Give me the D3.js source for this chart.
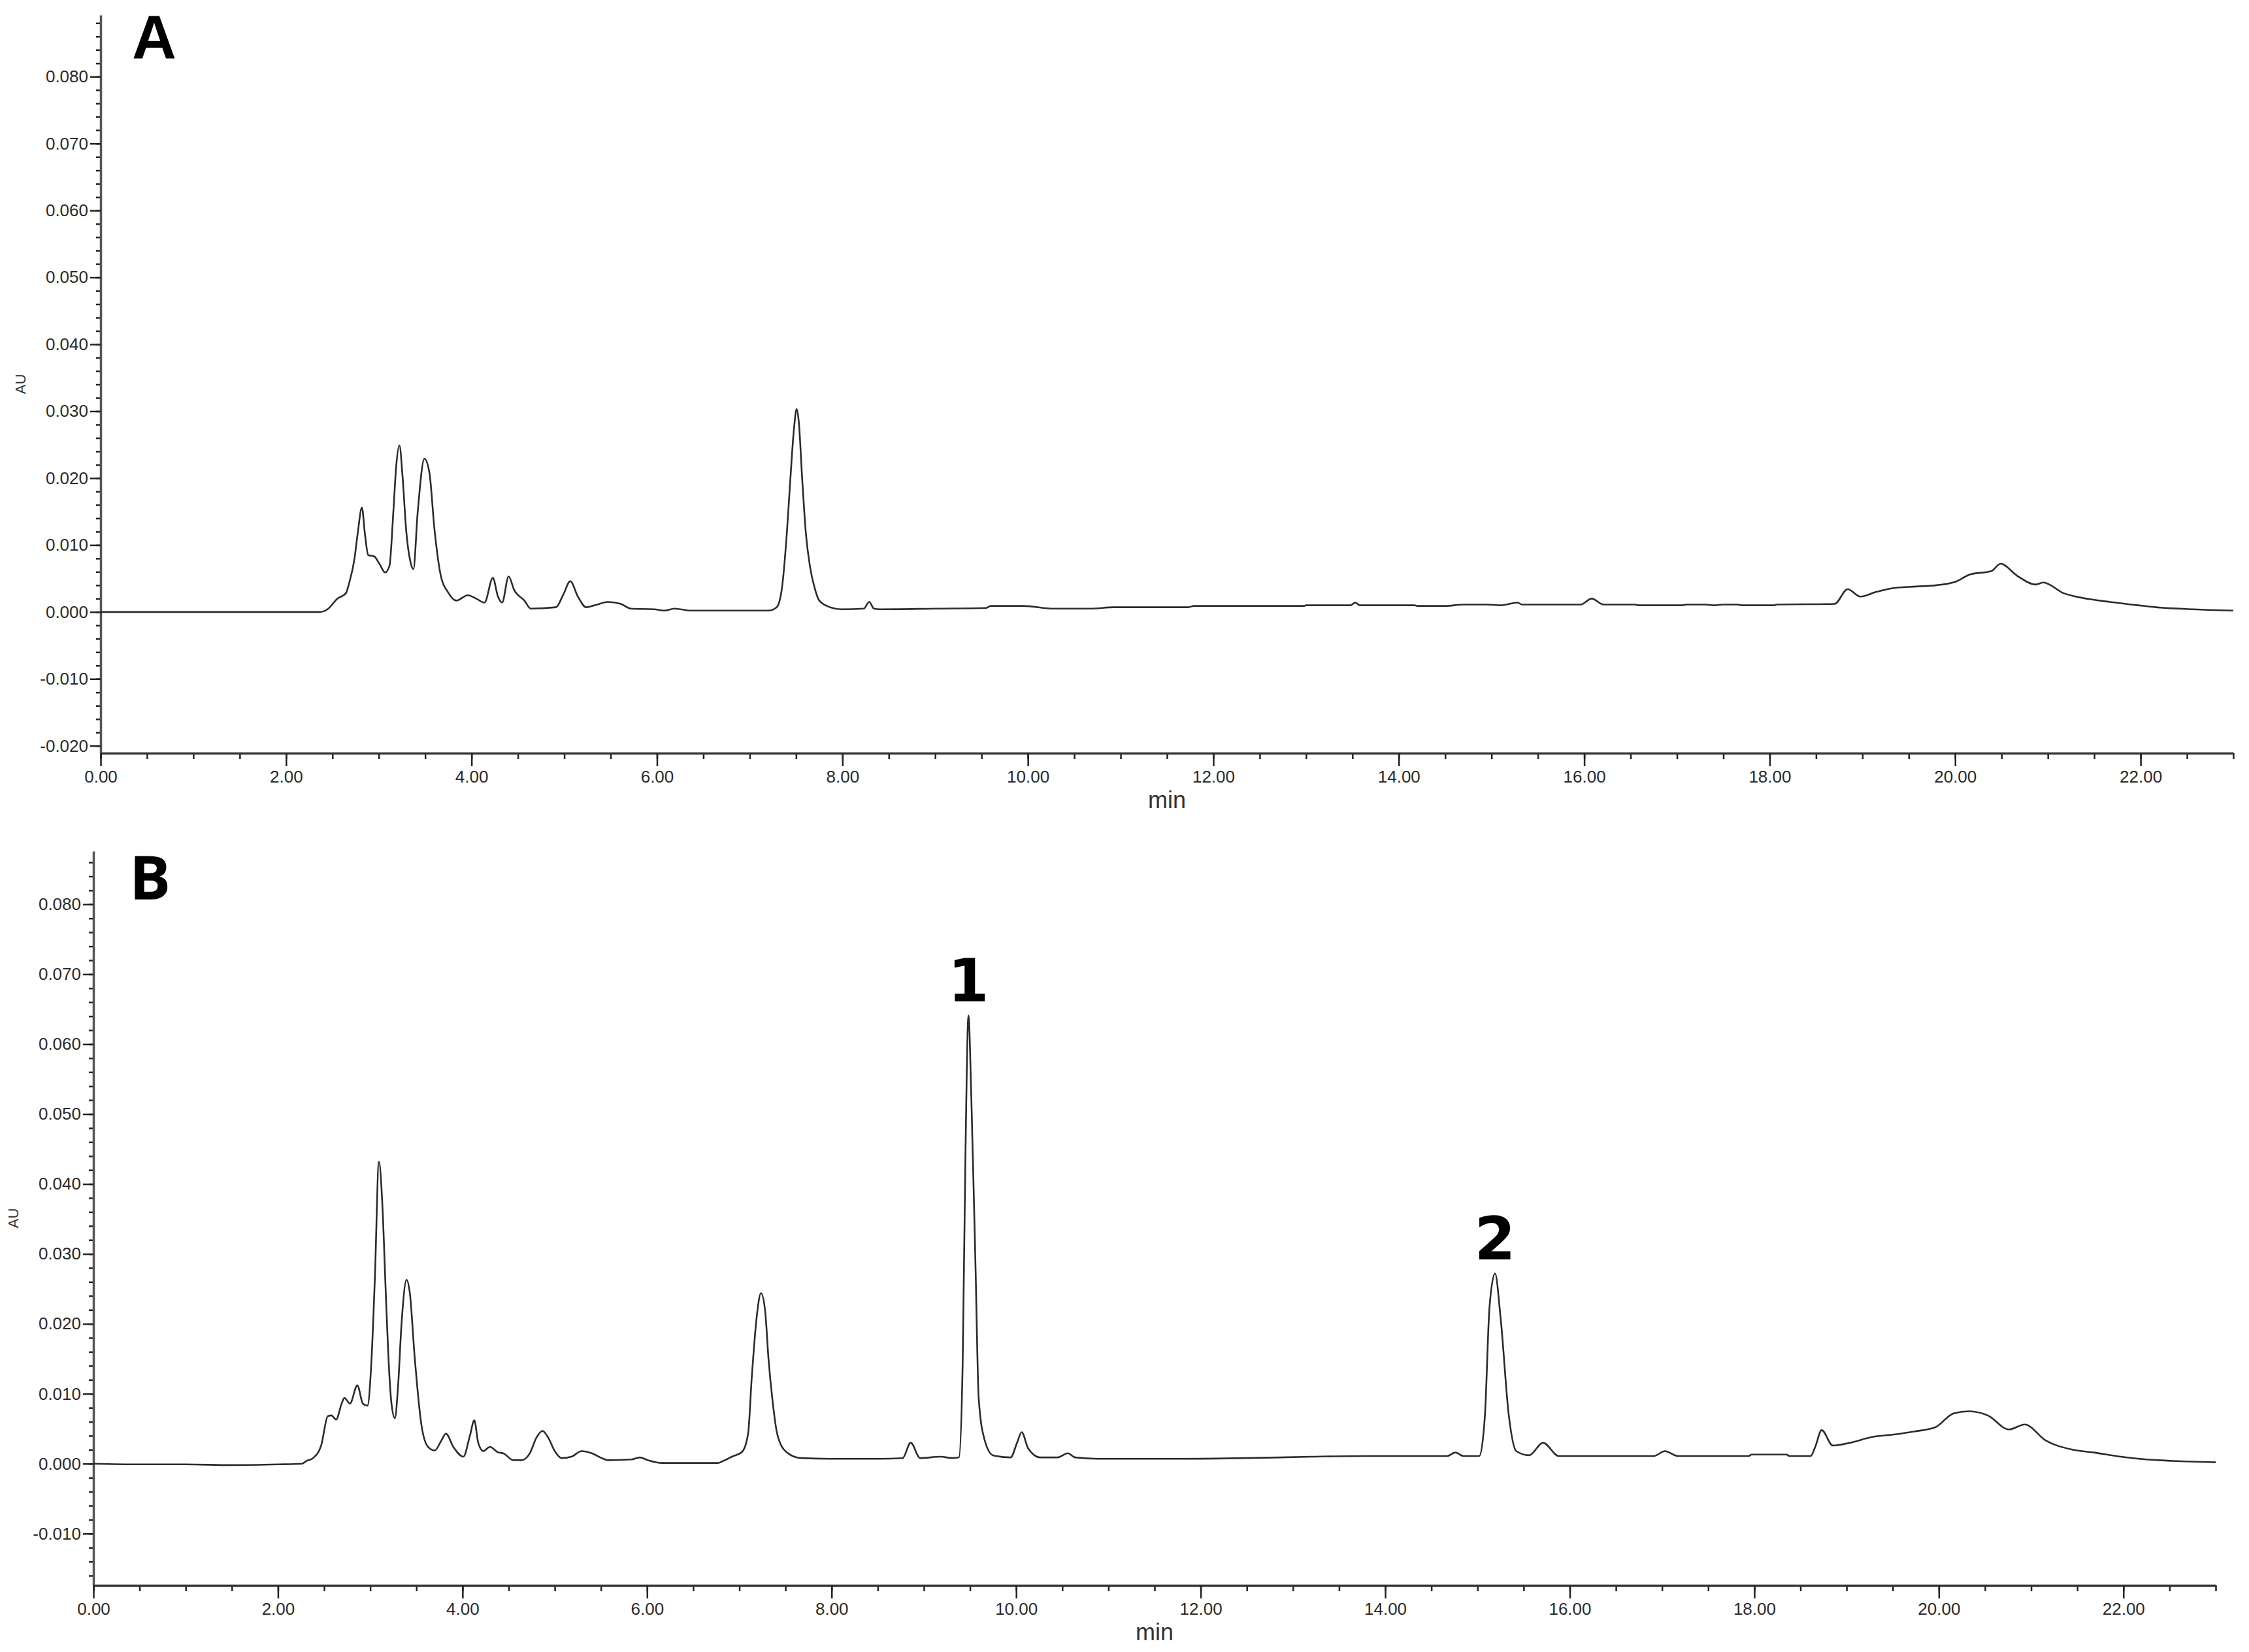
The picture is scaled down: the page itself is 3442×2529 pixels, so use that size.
<!DOCTYPE html>
<html>
<head>
<meta charset="utf-8">
<script src="https://cdn.jsdelivr.net/npm/d3@7"></script>
<style>
  html, body { margin: 0; padding: 0; background: #fff; }
  svg { display: block; }
</style>
</head>
<body>
<svg id="chart" width="3442" height="2529"></svg>
<script>
// ---------- DATA ----------
// Chromatogram A : retention time (min) and absorbance (AU)
const timeA = [0,1.0,2.0,2.36,2.447,2.555,2.645,2.68,2.736,2.772,2.818,2.85,2.886,2.95,3.007,3.068,3.115,3.157,3.186,3.222,3.258,3.294,3.341,3.373,3.42,3.492,3.546,3.60,3.672,3.744,3.834,3.96,4.05,4.14,4.23,4.285,4.33,4.40,4.46,4.57,4.64,4.91,4.99,5.065,5.147,5.237,5.33,5.47,5.61,5.72,5.97,6.08,6.19,6.37,7.2,7.29,7.345,7.40,7.434,7.477,7.506,7.53,7.566,7.606,7.65,7.70,7.75,7.868,7.99,8.23,8.289,8.34,8.41,9.0,9.55,9.6,9.95,10.28,10.67,10.93,11.73,11.79,12.1,12.3,12.98,13.0,13.48,13.53,13.58,14.17,14.2,14.5,14.7,14.95,15.1,15.28,15.33,15.96,16.08,16.21,16.54,16.59,17.06,17.1,17.3,17.4,17.5,17.65,17.7,18.05,18.07,18.7,18.84,18.98,19.15,19.35,19.58,19.8,20.0,20.16,20.39,20.49,20.67,20.87,20.95,21.17,21.37,21.67,21.97,22.17,22.57,23.0];
const auA = [0,0,0,0,0.0004,0.0020,0.0028,0.0043,0.0078,0.0117,0.0156,0.0117,0.0085,0.0083,0.0072,0.0059,0.0069,0.0150,0.0215,0.0249,0.0199,0.0124,0.0075,0.0064,0.0150,0.0229,0.0208,0.0124,0.0052,0.0030,0.0017,0.0025,0.0020,0.0014,0.0051,0.0023,0.0014,0.0053,0.0033,0.0017,0.0005,0.0007,0.0026,0.0046,0.0023,0.0007,0.0010,0.0015,0.0012,0.0005,0.0004,0.0002,0.0005,0.0002,0.0002,0.0007,0.0033,0.0117,0.0189,0.0273,0.0303,0.0283,0.0199,0.0117,0.0068,0.0036,0.0017,0.0007,0.0004,0.0005,0.0015,0.0005,0.0004,0.0005,0.0006,0.0009,0.0009,0.0005,0.0005,0.0007,0.0007,0.0009,0.0009,0.0009,0.0009,0.0010,0.0010,0.0014,0.0010,0.0010,0.0009,0.0009,0.0011,0.0011,0.0010,0.0014,0.0011,0.0011,0.0020,0.0011,0.0011,0.0010,0.0010,0.0011,0.0011,0.0010,0.0011,0.0011,0.0010,0.0010,0.0011,0.0012,0.0034,0.0023,0.0030,0.0036,0.0038,0.0040,0.0045,0.0056,0.0061,0.0072,0.0054,0.0041,0.0044,0.0028,0.0021,0.0015,0.0010,0.0007,0.0004,0.0002];

// Chromatogram B
const timeB = [0,0.5,1.0,1.5,2.0,2.26,2.31,2.38,2.47,2.54,2.58,2.63,2.69,2.72,2.78,2.86,2.92,2.97,3.01,3.05,3.094,3.13,3.167,3.196,3.23,3.267,3.30,3.34,3.393,3.43,3.48,3.555,3.627,3.70,3.77,3.82,3.90,4.009,4.08,4.128,4.17,4.225,4.297,4.39,4.44,4.55,4.64,4.73,4.80,4.866,4.93,5.00,5.075,5.18,5.29,5.40,5.51,5.58,5.83,5.92,6.01,6.16,6.77,6.81,6.92,7.03,7.095,7.135,7.19,7.235,7.28,7.316,7.36,7.41,7.507,7.665,8.0,8.5,8.77,8.857,8.96,9.18,9.31,9.38,9.42,9.45,9.483,9.515,9.56,9.594,9.656,9.75,9.94,10.01,10.06,10.13,10.26,10.45,10.56,10.64,10.89,11.74,12.5,13.2,13.8,14.67,14.76,14.85,15.02,15.08,15.13,15.19,15.25,15.34,15.42,15.56,15.71,15.88,16.91,17.03,17.17,17.94,17.97,18.35,18.38,18.61,18.66,18.73,18.85,19.04,19.27,19.53,19.73,19.96,20.16,20.33,20.53,20.76,20.93,21.16,21.45,21.68,21.97,22.25,22.54,23.0];
const auB = [0,-0.0001,-0.0001,-0.0002,-0.0001,0,0.0004,0.0008,0.0027,0.0068,0.0069,0.0063,0.0086,0.0094,0.0086,0.0112,0.0086,0.0083,0.0140,0.0265,0.0432,0.0374,0.0249,0.0155,0.0086,0.0065,0.0108,0.0202,0.0263,0.0243,0.0155,0.0055,0.0024,0.0019,0.0033,0.0043,0.0024,0.0010,0.0040,0.0062,0.0030,0.0018,0.0024,0.0016,0.0015,0.0005,0.0005,0.0015,0.0037,0.0047,0.0037,0.0018,0.0008,0.0010,0.0018,0.0015,0.0008,0.0005,0.0006,0.0009,0.0005,0.0001,0.0001,0.0003,0.0010,0.0017,0.0043,0.0124,0.0212,0.0244,0.0218,0.0150,0.0090,0.0043,0.0017,0.0008,0.0007,0.0007,0.0008,0.0030,0.0008,0.0010,0.0008,0.0009,0.0141,0.0437,0.0641,0.0520,0.0280,0.0094,0.0035,0.0012,0.0009,0.0030,0.0045,0.0022,0.0009,0.0009,0.0015,0.0009,0.0007,0.0007,0.0008,0.0010,0.0011,0.0011,0.0016,0.0011,0.0011,0.0068,0.0224,0.0272,0.0209,0.0068,0.0018,0.0012,0.0030,0.0011,0.0011,0.0018,0.0011,0.0011,0.0013,0.0013,0.0011,0.0011,0.0024,0.0048,0.0026,0.0030,0.0038,0.0042,0.0046,0.0052,0.0072,0.0075,0.0069,0.0049,0.0056,0.0033,0.0020,0.0016,0.0010,0.0006,0.0004,0.0002];

// Axis ticks
const xMajorTicks = [0,2,4,6,8,10,12,14,16,18,20,22];
const yTicksA = [-0.02,-0.01,0,0.01,0.02,0.03,0.04,0.05,0.06,0.07,0.08];
const yTicksB = [-0.01,0,0.01,0.02,0.03,0.04,0.05,0.06,0.07,0.08];
const panelLabels = ["A","B"];
const peakNames = ["1","2"];
const peakTimes = [9.483, 15.19];
const peakValues = [0.0641, 0.0272];
const xTitle = "min";
const yTitle = "AU";

// ---------- DRAW ----------
const svg = d3.select("#chart");
svg.append("rect").attr("width",3442).attr("height",2529).attr("fill","#fff");

const panels = [
  { t: timeA, v: auA, yTicks: yTicksA, xr: [154, 3418], yd: [-0.0211, 0.0892], yr: [1153, 23],
    label: panelLabels[0], lx: 202, ly: 90, lfont: "'Liberation Sans', Arial, sans-serif", peaks: false },
  { t: timeB, v: auB, yTicks: yTicksB, xr: [143, 3391], yd: [-0.0174, 0.0876], yr: [2427, 1303],
    label: panelLabels[1], lx: 198, ly: 1377, lfont: "'Open Sans', sans-serif", peaks: true }
];

const fmt = d => (Math.abs(d) < 1e-9 ? 0 : d).toFixed(3);
const fmtX = d => d.toFixed(2);
const tickFont = "'Liberation Sans', Arial, sans-serif";

panels.forEach(p => {
  const x = d3.scaleLinear().domain([0, 23]).range(p.xr);
  const y = d3.scaleLinear().domain(p.yd).range(p.yr);
  const g = svg.append("g");

  // minor y ticks
  const yMinor = d3.range(Math.ceil(p.yd[0] / 0.002), Math.floor(p.yd[1] / 0.002) + 1).map(k => k * 0.002);
  g.append("g").attr("transform", `translate(${p.xr[0]},0)`)
    .call(d3.axisLeft(y).tickValues(yMinor).tickSize(7).tickSizeOuter(0).tickFormat(""))
    .call(a => a.selectAll("line").attr("stroke", "#222").attr("stroke-width", 2.5))
    .call(a => a.select(".domain").remove());

  // major y ticks
  g.append("g").attr("transform", `translate(${p.xr[0]},0)`)
    .call(d3.axisLeft(y).tickValues(p.yTicks).tickSize(16).tickSizeOuter(0).tickPadding(3).tickFormat(fmt))
    .call(a => a.selectAll("line").attr("stroke", "#222").attr("stroke-width", 2.5))
    .call(a => a.select(".domain").attr("stroke", "#555").attr("stroke-width", 3.5))
    .call(a => a.selectAll("text").attr("font-size", 26).attr("font-family", tickFont).attr("fill", "#2a2a2a"));

  // minor x ticks
  const xMinor = d3.range(0, 46 + 1).map(k => k * 0.5);
  g.append("g").attr("transform", `translate(0,${p.yr[0]})`)
    .call(d3.axisBottom(x).tickValues(xMinor).tickSize(9).tickSizeOuter(0).tickFormat(""))
    .call(a => a.selectAll("line").attr("stroke", "#222").attr("stroke-width", 2.5))
    .call(a => a.select(".domain").remove());

  // major x ticks
  g.append("g").attr("transform", `translate(0,${p.yr[0]})`)
    .call(d3.axisBottom(x).tickValues(xMajorTicks).tickSize(20).tickSizeOuter(0).tickPadding(7).tickFormat(fmtX))
    .call(a => a.selectAll("line").attr("stroke", "#222").attr("stroke-width", 2.5))
    .call(a => a.select(".domain").attr("stroke", "#333").attr("stroke-width", 3.5))
    .call(a => a.selectAll("text").attr("font-size", 26).attr("font-family", tickFont).attr("fill", "#2a2a2a"));

  // axis titles
  g.append("text").attr("x", (p.xr[0] + p.xr[1]) / 2).attr("y", p.yr[0] + 84)
    .attr("text-anchor", "middle").attr("font-size", 36).attr("font-family", tickFont)
    .attr("fill", "#333").text(xTitle);
  const ay = (p.yr[0] + p.yr[1]) / 2;
  const ax = p.xr[0] - 115;
  g.append("text").attr("transform", `translate(${ax},${ay}) rotate(-90)`)
    .attr("text-anchor", "middle").attr("font-size", 22).attr("font-family", tickFont)
    .attr("fill", "#333").text(yTitle);

  // trace
  const pts = p.t.map((t, i) => [t, p.v[i]]);
  g.append("path").datum(pts)
    .attr("fill", "none").attr("stroke", "#2b2b2b").attr("stroke-width", 2.6)
    .attr("stroke-linejoin", "round")
    .attr("d", d3.line().x(d => x(d[0])).y(d => y(d[1])).curve(d3.curveMonotoneX));

  // panel letter
  g.append("text").attr("x", p.lx).attr("y", p.ly)
    .attr("font-size", 94).attr("font-weight", 700).attr("font-family", p.lfont)
    .attr("fill", "#000").text(p.label);

  if (p.peaks) {
    peakNames.forEach((n, i) => {
      g.append("text").attr("x", x(peakTimes[i])).attr("y", y(peakValues[i]) - 22)
        .attr("text-anchor", "middle").attr("font-size", 90).attr("font-weight", 700)
        .attr("font-family", "'DejaVu Sans', sans-serif").attr("fill", "#000").text(n);
    });
  }
});
</script>
</body>
</html>
